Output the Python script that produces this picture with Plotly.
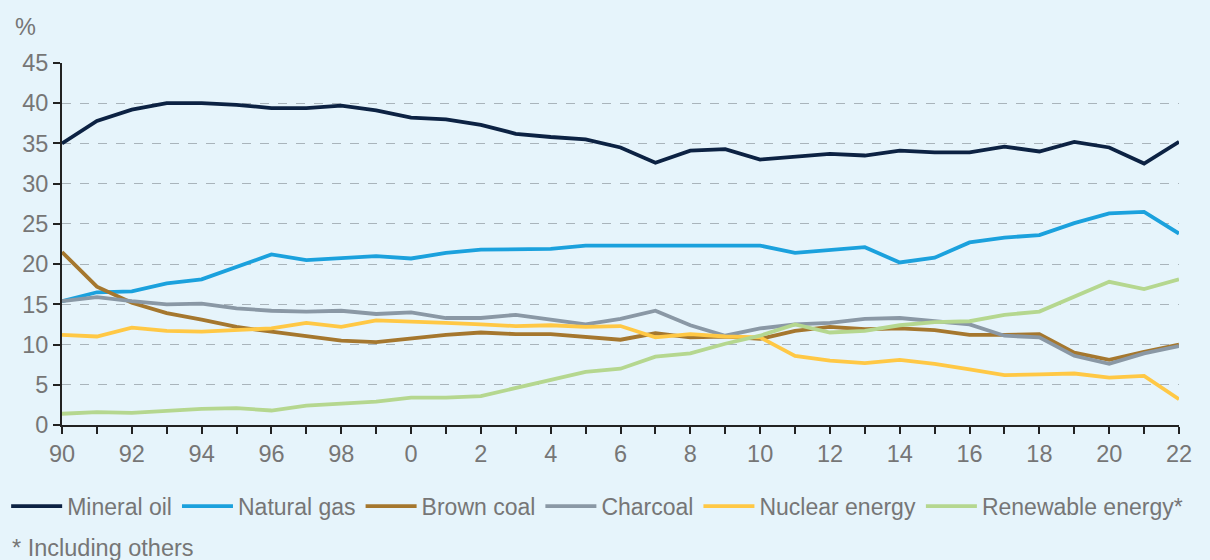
import plotly.graph_objects as go

years = list(range(1990, 2023))
tick_vals = list(range(1990, 2023, 2))
tick_text = ["90", "92", "94", "96", "98", "0", "2", "4", "6", "8", "10",
             "12", "14", "16", "18", "20", "22"]

mineral_oil = [35.0, 37.8, 39.2, 40.0, 40.0, 39.8, 39.4, 39.4, 39.7, 39.1, 38.2,
               38.0, 37.3, 36.2, 35.8, 35.5, 34.5, 32.6, 34.1, 34.3, 33.0,
               33.3, 33.7, 33.5, 34.1, 33.9, 33.9, 34.6, 34.0, 35.2, 34.5, 32.5, 35.2]
natural_gas = [15.4, 16.5, 16.6, 17.6, 18.1, 19.6, 21.2, 20.5, 20.8, 21.0, 20.7,
               21.4, 21.8, 21.8, 21.9, 22.3, 22.3, 22.4, 22.4, 22.4, 22.3,
               21.4, 21.7, 22.1, 20.2, 20.8, 22.7, 23.3, 23.6, 25.1, 26.3, 26.5, 23.8]
brown_coal = [21.5, 17.2, 15.2, 13.9, 13.1, 12.2, 11.6, 11.0, 10.5, 10.3, 10.8,
              11.2, 11.5, 11.3, 11.3, 11.0, 10.6, 11.4, 10.9, 11.0, 10.7,
              11.7, 12.2, 11.9, 12.0, 11.8, 11.2, 11.2, 11.3, 9.0, 8.1, 9.1, 10.0]
charcoal = [15.4, 15.9, 15.4, 15.0, 15.1, 14.5, 14.2, 14.1, 14.2, 13.8, 14.0,
            13.3, 13.3, 13.7, 13.1, 12.5, 13.2, 14.2, 12.4, 11.1, 12.0,
            12.5, 12.7, 13.2, 13.3, 12.9, 12.5, 11.1, 10.9, 8.6, 7.6, 8.9, 9.8]
nuclear = [11.2, 11.0, 12.1, 11.7, 11.6, 11.8, 12.0, 12.7, 12.2, 13.0, 12.9,
           12.7, 12.5, 12.3, 12.4, 12.2, 12.3, 10.9, 11.3, 11.0, 10.9,
           8.6, 8.0, 7.7, 8.1, 7.6, 6.9, 6.2, 6.3, 6.4, 5.9, 6.1, 3.2]
renewable = [1.4, 1.6, 1.5, 1.8, 2.0, 2.1, 1.8, 2.4, 2.6, 2.9, 3.4,
             3.4, 3.6, 4.6, 5.5, 6.6, 7.0, 8.5, 8.9, 10.1, 11.1,
             12.5, 11.5, 11.7, 12.4, 12.8, 12.9, 13.7, 14.1, 15.9, 17.8, 16.9, 18.1]

series = [
    ("Mineral oil", mineral_oil, "#0c2243"),
    ("Natural gas", natural_gas, "#1ba1dd"),
    ("Brown coal", brown_coal, "#a5772e"),
    ("Charcoal", charcoal, "#8a98a5"),
    ("Nuclear energy", nuclear, "#ffc845"),
    ("Renewable energy*", renewable, "#b5d78f"),
]

BG = "#e6f4fb"
TXT = "#767676"
FONT = "Liberation Sans, Arial, sans-serif"
FS = 23.5

fig = go.Figure()
for name, vals, col in series:
    fig.add_trace(go.Scatter(x=years, y=vals, mode="lines", name=name,
                             line=dict(color=col, width=3.8)))

fig.update_layout(
    width=1210, height=560,
    paper_bgcolor=BG, plot_bgcolor=BG,
    margin=dict(l=62, r=31, t=63, b=135, autoexpand=False),
    font=dict(family=FONT, size=FS, color=TXT),
    showlegend=True,
    legend=dict(orientation="h", x=-0.05, xanchor="left", y=-0.165, yanchor="top",
                font=dict(size=23, color=TXT), itemwidth=51,
                tracegroupgap=0, bgcolor="rgba(0,0,0,0)"),
    xaxis=dict(range=[1990, 2022], tickvals=tick_vals, ticktext=tick_text,
               automargin=False,
               showgrid=False, zeroline=False, showline=True, linecolor="#222",
               linewidth=2, ticks="outside", ticklen=7, tickwidth=2, tickcolor="#222",
               tickfont=dict(size=FS, color=TXT),
               minor=dict(dtick=1, tick0=1990, ticks="outside", ticklen=7,
                          tickwidth=2, tickcolor="#222", showgrid=False)),
    yaxis=dict(range=[0, 45], dtick=5, tick0=0, showgrid=True, gridcolor="#a9b4bb",
               automargin=False,
               griddash="dash", gridwidth=1, zeroline=False, showline=True,
               linecolor="#222", linewidth=2, ticks="outside", ticklen=7,
               tickwidth=2, tickcolor="#222", tickfont=dict(size=FS, color=TXT)),
    annotations=[
        dict(text="%", xref="paper", yref="paper", x=-0.044, y=1.099, xanchor="left",
             yanchor="middle", showarrow=False, font=dict(size=FS, color=TXT)),
        dict(text="* Including others", xref="paper", yref="paper", x=-0.047,
             y=-0.34, xanchor="left", yanchor="middle", showarrow=False,
             font=dict(size=FS, color=TXT)),
    ],
)

fig.write_html("out.html", config={"displayModeBar": False},
               post_script="document.body.style.margin='0';document.body.style.background='#e6f4fb';")
